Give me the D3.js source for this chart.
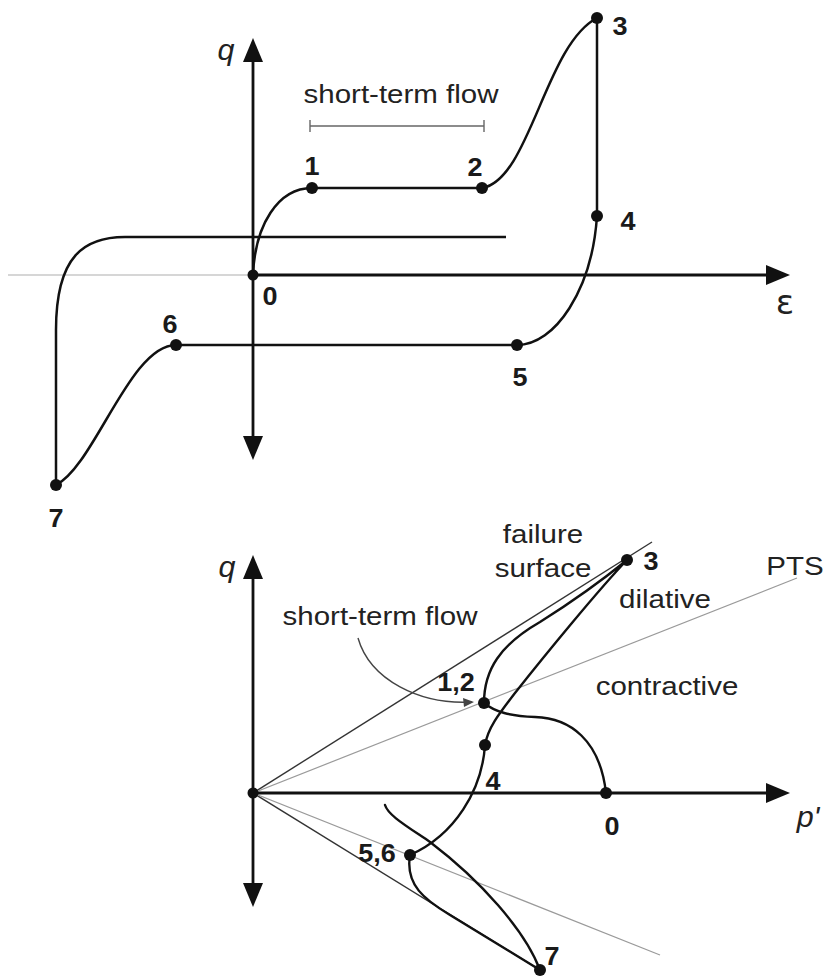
<!DOCTYPE html>
<html><head><meta charset="utf-8">
<script src="https://cdn.jsdelivr.net/npm/d3@7"></script>
<style>body{margin:0;background:#fff}svg{display:block}</style>
</head><body><svg id="c" width="827" height="980"></svg>
<script>
// ---------- TOP PANEL: strain (ε) vs deviator stress (q) ----------
const topStateIds = ["0","1","2","3","4","5","6","7"];
const topStrain   = [0, 0.59, 2.29, 3.44, 3.44, 2.64, -0.77, -1.97];
const topQ        = [0, 0.87, 0.87, 2.57, 0.59, -0.70, -0.70, -2.10];
// stress–strain path (M / L / C segments in ε,q units)
const topPath = [
  ["M", 0, 0],
  ["C", 0.02, 0.50, 0.25, 0.87, 0.59, 0.87],
  ["L", 2.29, 0.87],
  ["C", 2.77, 0.95, 2.92, 2.30, 3.44, 2.57],
  ["L", 3.44, 0.59],
  ["C", 3.39, -0.15, 3.02, -0.70, 2.64, -0.70],
  ["L", -0.77, -0.70],
  ["C", -1.23, -0.70, -1.58, -1.90, -1.97, -2.10],
  ["L", -1.97, -0.55],
  ["C", -1.97, 0.20, -1.68, 0.38, -1.28, 0.38],
  ["L", 2.53, 0.38]
];
const topShortTermFlow = [0.57, 2.31];   // ε range
const topShortTermQ = 1.49;
const topAxisQ = [-1.85, 2.37];
const topAxisE = [-2.45, 5.37];

// ---------- BOTTOM PANEL: p' vs q ----------
const botStateIds = ["0","1,2","3","4","5,6","7"];
const botP = [3.53, 2.31, 3.74, 2.32, 1.57, 2.87];
const botQ = [0, 0.90, 2.33, 0.48, -0.62, -1.77];
const botPath = [
  ["M", 3.53, 0],
  ["C", 3.47, 0.53, 3.17, 0.75, 2.82, 0.76],
  ["C", 2.57, 0.77, 2.42, 0.81, 2.31, 0.90],
  ["C", 2.31, 1.23, 2.47, 1.48, 2.87, 1.71],
  ["C", 3.22, 1.93, 3.52, 2.15, 3.74, 2.33],
  ["C", 3.47, 2.05, 2.92, 1.38, 2.62, 1.00],
  ["C", 2.45, 0.78, 2.35, 0.65, 2.32, 0.48],
  ["C", 2.29, 0.03, 2.02, -0.42, 1.57, -0.62],
  ["C", 1.52, -0.92, 1.72, -1.07, 1.97, -1.22],
  ["L", 2.87, -1.77],
  ["C", 2.72, -1.37, 2.27, -0.87, 1.77, -0.49],
  ["C", 1.52, -0.32, 1.35, -0.22, 1.32, -0.12]
];
const failureEnds = [[3.99, 2.51], [2.87, -1.77]];
const ptsEnds     = [[5.44, 2.15], [4.07, -1.62]];
const flowArrow = [["M", 1.05, 1.55], ["C", 1.17, 1.13, 1.67, 0.88, 2.19, 0.91]];
const botAxisQ = [-1.14, 2.38];
const botAxisP = [0, 5.37];

// ---------- drawing ----------
const svg = d3.select("#c");
svg.append("rect").attr("width",827).attr("height",980).attr("fill","#fff");

const xT = d3.scaleLinear().domain([-2.5, 5.5]).range([3, 803]);
const yT = d3.scaleLinear().domain([-2.5, 2.75]).range([525, 0]);
const xB = d3.scaleLinear().domain([0, 5.5]).range([253, 803]);
const yB = d3.scaleLinear().domain([-2, 2.5]).range([993, 543]);

const SX = 1.18; // horizontal text stretch of the reference
function pathFrom(segs, xs, ys){
  const p = d3.path();
  segs.forEach(s => {
    const c = s[0], v = s.slice(1);
    if (c === "M") p.moveTo(xs(v[0]), ys(v[1]));
    else if (c === "L") p.lineTo(xs(v[0]), ys(v[1]));
    else p.bezierCurveTo(xs(v[0]), ys(v[1]), xs(v[2]), ys(v[3]), xs(v[4]), ys(v[5]));
  });
  return p.toString();
}
function label(text, x, y, o){
  o = o || {};
  svg.append("text")
    .attr("transform", `translate(${x},${y}) scale(${o.sx||SX},1)`)
    .attr("text-anchor", o.anchor || "middle")
    .attr("font-family", o.family || "'Liberation Sans', Arial, sans-serif")
    .attr("font-size", o.size || 25)
    .attr("font-weight", o.weight || "normal")
    .attr("font-style", o.style || "normal")
    .attr("fill", o.fill || "#222")
    .text(text);
}
function arrowHead(tx, ty, dir){
  const L = 24, h = 10;
  let pts;
  if (dir === "up")    pts = [[tx,ty],[tx-h,ty+L],[tx+h,ty+L]];
  if (dir === "down")  pts = [[tx,ty],[tx-h,ty-L],[tx+h,ty-L]];
  if (dir === "right") pts = [[tx,ty],[tx-L,ty-h],[tx-L,ty+h]];
  svg.append("path").attr("d", d3.line()(pts) + "Z").attr("fill", "#111");
}
function axisLine(x1,y1,x2,y2,w,col){
  svg.append("line").attr("x1",x1).attr("y1",y1).attr("x2",x2).attr("y2",y2)
    .attr("stroke",col||"#111").attr("stroke-width",w||2.8);
}

// ===== TOP =====
// faint left extension of ε axis
axisLine(xT(topAxisE[0]), yT(0), xT(0), yT(0), 1.3, "#c8c8c8");
axisLine(xT(0), yT(0), xT(topAxisE[1]) - 18, yT(0));
arrowHead(xT(topAxisE[1]), yT(0), "right");
axisLine(xT(0), yT(topAxisQ[1]) + 18, xT(0), yT(topAxisQ[0]) - 18);
arrowHead(xT(0), yT(topAxisQ[1]), "up");
arrowHead(xT(0), yT(topAxisQ[0]), "down");

svg.append("path").attr("d", pathFrom(topPath, xT, yT))
  .attr("fill","none").attr("stroke","#111").attr("stroke-width",2.5)
  .attr("stroke-linejoin","round");

// short-term flow bracket
{
  const x1 = xT(topShortTermFlow[0]), x2 = xT(topShortTermFlow[1]), y = yT(topShortTermQ);
  const g = svg.append("g").attr("stroke","#666").attr("stroke-width",1.4);
  g.append("line").attr("x1",x1).attr("x2",x2).attr("y1",y).attr("y2",y);
  g.append("line").attr("x1",x1).attr("x2",x1).attr("y1",y-6).attr("y2",y+6);
  g.append("line").attr("x1",x2).attr("x2",x2).attr("y1",y-6).attr("y2",y+6);
}
label("short-term flow", 401, 103);

svg.append("g").selectAll("circle").data(topStateIds).join("circle")
  .attr("cx",(d,i)=>xT(topStrain[i])).attr("cy",(d,i)=>yT(topQ[i]))
  .attr("r",(d,i)=> i===0 ? 5.5 : 6).attr("fill","#111");

const topLabelOff = {"0":[17,30],"1":[0,-13],"2":[-7,-12],"3":[23,17],"4":[31,14],"5":[3,41],"6":[-6,-12],"7":[0,42]};
topStateIds.forEach((id,i)=>{
  const o = topLabelOff[id];
  label(id, xT(topStrain[i]) + o[0], yT(topQ[i]) + o[1], {weight:"bold", size:25, sx:1.08, family:"'Liberation Sans', Arial, sans-serif", fill:"#1a1a1a"});
});
label("q", 226, 60, {style:"italic", size:29, sx:1.05});
label("ε", 785, 314, {size:34, sx:1.0, family:"'DejaVu Sans', sans-serif"});

// ===== BOTTOM =====
// failure surfaces & PTS lines
failureEnds.forEach(e => axisLine(xB(0), yB(0), xB(e[0]), yB(e[1]), 1.4, "#333"));
ptsEnds.forEach(e => axisLine(xB(0), yB(0), xB(e[0]), yB(e[1]), 1.2, "#9a9a9a"));

axisLine(xB(0), yB(0), xB(botAxisP[1]) - 18, yB(0));
arrowHead(xB(botAxisP[1]), yB(0), "right");
axisLine(xB(0), yB(botAxisQ[1]) + 18, xB(0), yB(botAxisQ[0]) - 18);
arrowHead(xB(0), yB(botAxisQ[1]), "up");
arrowHead(xB(0), yB(botAxisQ[0]), "down");

svg.append("path").attr("d", pathFrom(botPath, xB, yB))
  .attr("fill","none").attr("stroke","#111").attr("stroke-width",2.4)
  .attr("stroke-linejoin","round").attr("stroke-linecap","round");

// short-term flow pointer arrow
svg.append("path").attr("d", pathFrom(flowArrow, xB, yB))
  .attr("fill","none").attr("stroke","#444").attr("stroke-width",1.4);
{
  const tx = xB(flowArrow[1][5]), ty = yB(flowArrow[1][6]);
  svg.append("path").attr("d", d3.line()([[tx+2,ty],[tx-9,ty-4],[tx-8,ty+5]])+"Z").attr("fill","#444");
}

// origin dot
svg.append("circle").attr("cx",xB(0)).attr("cy",yB(0)).attr("r",5.5).attr("fill","#111");
svg.append("g").selectAll("circle").data(botStateIds).join("circle")
  .attr("cx",(d,i)=>xB(botP[i])).attr("cy",(d,i)=>yB(botQ[i]))
  .attr("r",6).attr("fill","#111");

const botLabelOff = {"0":[6,42],"1,2":[-28,-12],"3":[24,10],"4":[8,45],"5,6":[-33,7],"7":[12,-5]};
botStateIds.forEach((id,i)=>{
  const o = botLabelOff[id];
  label(id, xB(botP[i]) + o[0], yB(botQ[i]) + o[1], {weight:"bold", size:25, sx:1.08, fill:"#1a1a1a"});
});

label("q", 227, 577, {style:"italic", size:29, sx:1.05});
label("p'", 808, 827, {style:"italic", size:29, sx:1.05});
label("short-term flow", 380, 625);
label("failure", 543, 543);
label("surface", 543, 577);
label("dilative", 665, 608);
label("contractive", 667, 695);
label("PTS", 795, 575);
</script>
</body></html>
